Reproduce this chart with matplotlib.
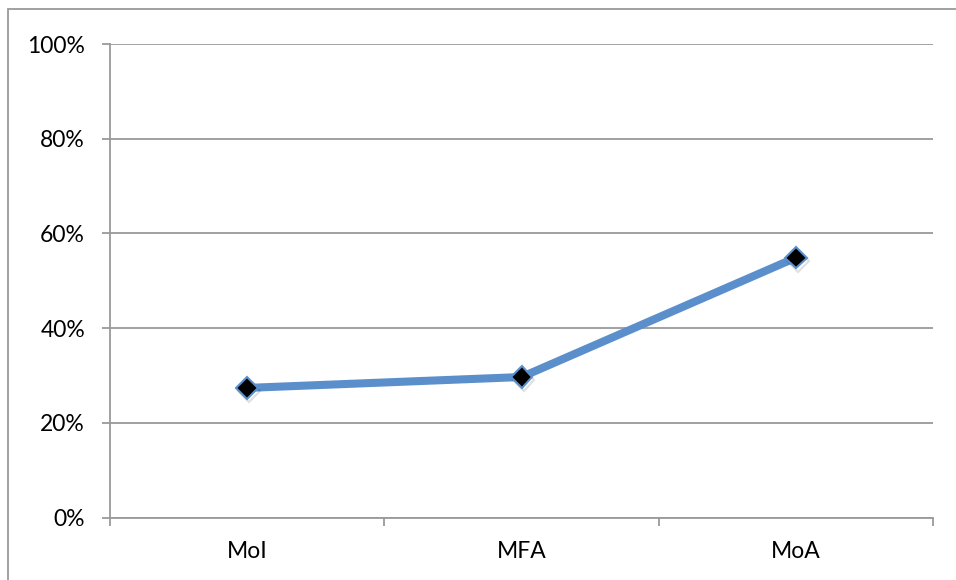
import matplotlib.pyplot as plt
import matplotlib.patheffects as pe
from matplotlib.patches import Rectangle
from matplotlib.ticker import FixedLocator, PercentFormatter

categories = ['MoI', 'MFA', 'MoA']
values = [0.274, 0.297, 0.549]

plt.rcParams['font.family'] = ['Lato', 'DejaVu Sans']

fig = plt.figure(figsize=(9.56, 5.8), dpi=100)
ax = fig.add_axes([0.1151, 0.1074, 0.976 - 0.1151, 0.9241 - 0.1074])

# chart frame, open on the right and bottom
fig.patches.append(Rectangle((8 / 956, -0.1), 1.2, 1 - 9 / 580 + 0.1,
                             transform=fig.transFigure, fill=False,
                             edgecolor='#9a9a9a', linewidth=1.3))

x = list(range(len(categories)))
ax.plot(x, values, color='#5b8fcc', linewidth=5.8, solid_capstyle='butt', zorder=3)
ax.plot(x, values, linestyle='none',
        marker='D', markersize=11, markerfacecolor='black',
        markeredgecolor='#5b8fcc', markeredgewidth=1.5, zorder=4,
        path_effects=[pe.SimpleLineShadow(offset=(1.5, -2.5), alpha=0.12, shadow_color='black'),
                      pe.Normal()])

ax.set_xlim(-0.5, len(categories) - 0.5)
ax.set_ylim(0, 1)
ax.yaxis.set_major_locator(FixedLocator([0, 0.2, 0.4, 0.6, 0.8, 1.0]))
ax.yaxis.set_major_formatter(PercentFormatter(1.0, decimals=0))

ax.xaxis.set_major_locator(FixedLocator([i - 0.5 for i in range(len(categories) + 1)]))
ax.xaxis.set_major_formatter(plt.NullFormatter())
ax.xaxis.set_minor_locator(FixedLocator(x))
ax.set_xticklabels(categories, minor=True)

ax.grid(axis='y', color='#9a9a9a', linewidth=1.3)
ax.set_axisbelow(True)
for s in ['top', 'right']:
    ax.spines[s].set_visible(False)
for s in ['left', 'bottom']:
    ax.spines[s].set_color('#9a9a9a')
    ax.spines[s].set_linewidth(1.3)

ax.tick_params(axis='y', which='major', length=6, width=1.3, color='#9a9a9a',
               pad=12, labelsize=16.5, labelcolor='black')
ax.tick_params(axis='x', which='major', length=6, width=1.3, color='#9a9a9a')
ax.tick_params(axis='x', which='minor', length=0, pad=17, labelsize=16.5, labelcolor='black')

fig.savefig('out.png', dpi=100)
